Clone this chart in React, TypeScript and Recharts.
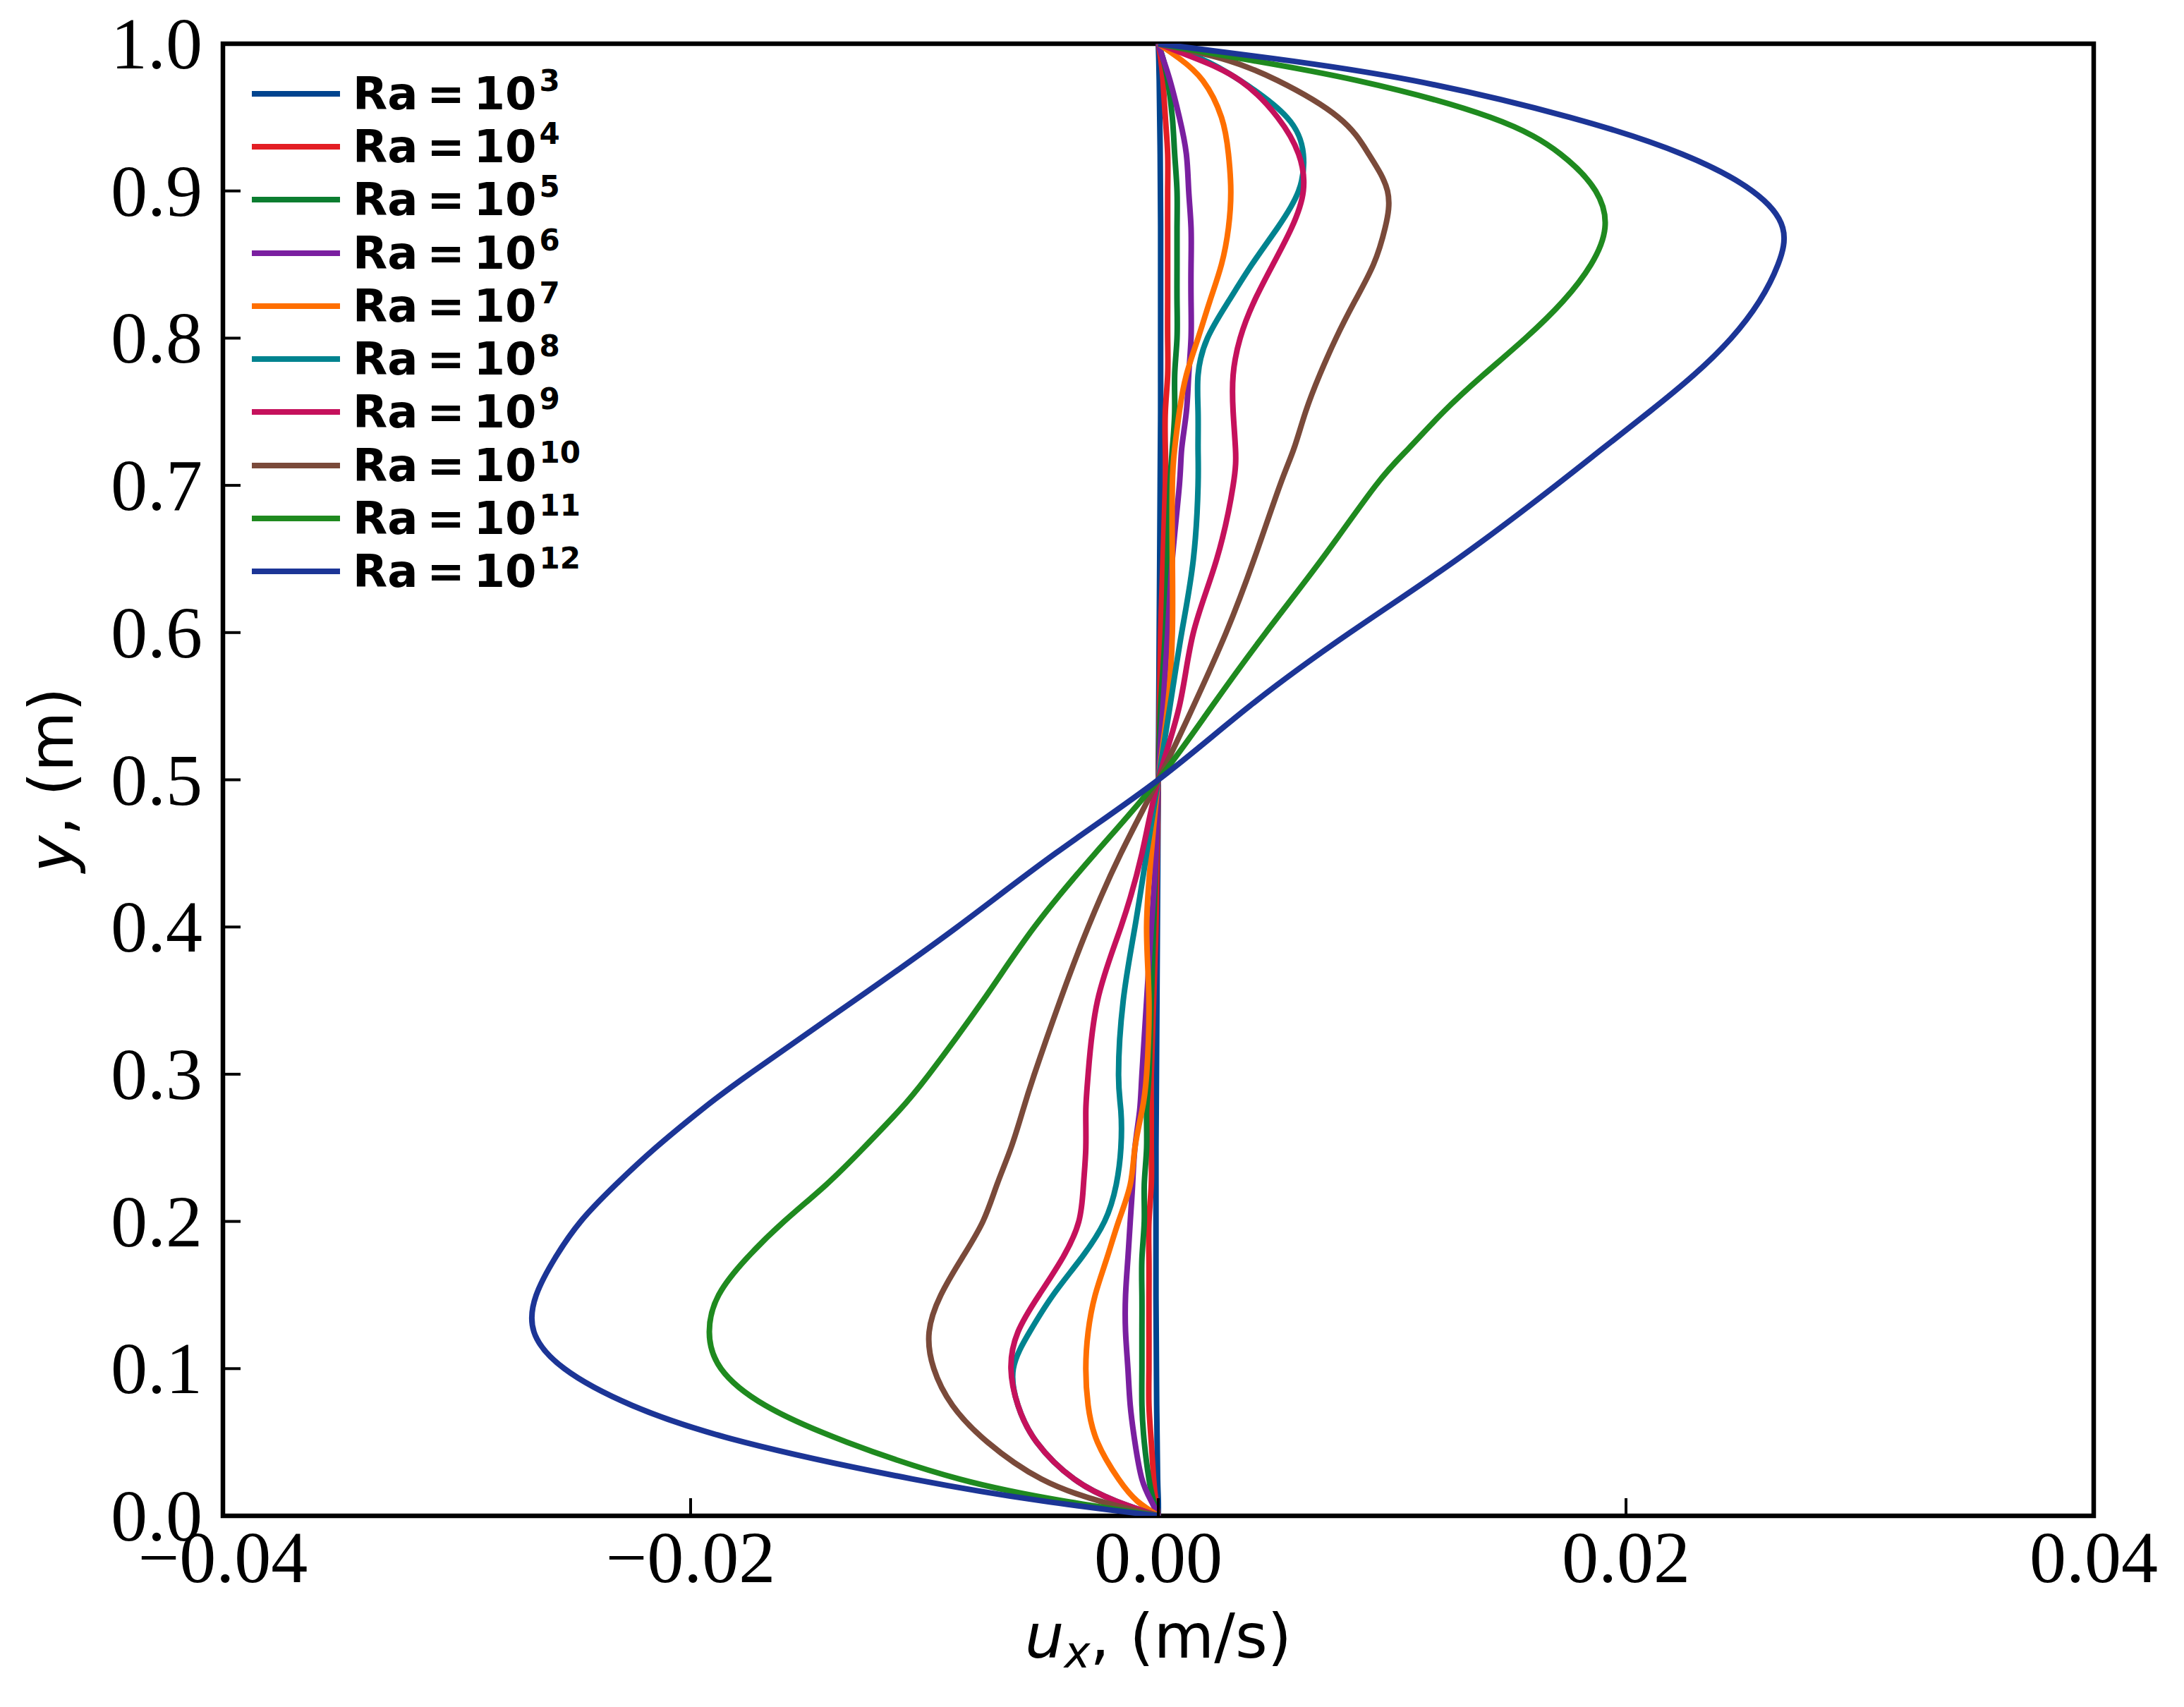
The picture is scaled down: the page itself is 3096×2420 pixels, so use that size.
import React from 'react';
import { LineChart, Line, XAxis, YAxis, ReferenceArea, Legend } from 'recharts';

// heights (m) the profiles were read at
const yPos = [
  0, 0.01, 0.025, 0.05, 0.075, 0.1, 0.125, 0.15, 0.175, 0.2, 0.225, 0.25, 0.275, 0.3, 0.35, 0.4, 0.45,
  0.5, 0.55, 0.6, 0.65, 0.7, 0.725, 0.75, 0.775, 0.8, 0.825, 0.85, 0.875, 0.9, 0.925, 0.95, 0.975, 0.99, 1,
];

// u_x (m/s) for each Rayleigh number
const ra3 = [0, 0, -0.00003, -0.00005, -0.00007, -0.00008, -0.00009, -0.0001, -0.0001, -0.0001, -0.0001, -0.0001, -0.00009, -0.00008, -0.00006, -0.00004, -0.00002, 0, 0.00002, 0.00004, 0.00006, 0.00008, 0.00009, 0.0001, 0.0001, 0.0001, 0.0001, 0.0001, 0.0001, 0.00009, 0.00008, 0.00006, 0.00004, 0.00002, 0];
const ra4 = [0, -0.0001, -0.0002, -0.0003, -0.0004, -0.0004, -0.0004, -0.0004, -0.0004, -0.0004, -0.0003, -0.0003, -0.0003, -0.0003, -0.0002, -0.0001, -0.00005, 0, 0.00005, 0.0001, 0.0002, 0.0003, 0.0003, 0.0003, 0.0004, 0.0004, 0.0004, 0.0004, 0.0004, 0.0004, 0.0004, 0.0003, 0.0002, 0.0001, 0];
const ra5 = [0, -0.0002, -0.0004, -0.0006, -0.0007, -0.0007, -0.0007, -0.0007, -0.0007, -0.0006, -0.0006, -0.0005, -0.0005, -0.0004, -0.0003, -0.0002, -0.0001, 0, 0.0001, 0.0003, 0.0004, 0.0005, 0.0006, 0.0007, 0.0007, 0.0008, 0.0008, 0.0008, 0.0008, 0.0008, 0.0007, 0.0006, 0.0004, 0.0002, 0];
const ra6 = [0, -0.0003, -0.0007, -0.001, -0.0012, -0.0013, -0.0014, -0.0014, -0.0013, -0.0012, -0.0011, -0.001, -0.0008, -0.0007, -0.0005, -0.0003, -0.0001, 0, 0.0002, 0.0004, 0.0006, 0.0009, 0.001, 0.0012, 0.0013, 0.0014, 0.0014, 0.0014, 0.0014, 0.0013, 0.0012, 0.0009, 0.0005, 0.0002, 0];
const ra7 = [0, -0.0009, -0.0017, -0.0026, -0.003, -0.0031, -0.003, -0.0027, -0.0022, -0.0017, -0.0012, -0.001, -0.0007, -0.0005, -0.0004, -0.0005, -0.0003, 0, 0.0004, 0.0006, 0.0006, 0.0006, 0.0007, 0.0009, 0.0012, 0.0017, 0.0022, 0.0027, 0.003, 0.0031, 0.003, 0.0027, 0.0019, 0.0009, 0];
const ra8 = [0, -0.0018, -0.0036, -0.0052, -0.006, -0.0062, -0.0055, -0.0045, -0.0033, -0.0023, -0.0018, -0.0016, -0.0016, -0.0017, -0.0015, -0.001, -0.0005, 0, 0.0005, 0.001, 0.0015, 0.0017, 0.0017, 0.0017, 0.0017, 0.0021, 0.003, 0.004, 0.0051, 0.006, 0.0062, 0.0055, 0.0035, 0.0018, 0];
const ra9 = [0, -0.0018, -0.0036, -0.0052, -0.006, -0.0063, -0.006, -0.0051, -0.0041, -0.0034, -0.0032, -0.0031, -0.0031, -0.003, -0.0026, -0.0016, -0.0007, 0, 0.0009, 0.0015, 0.0025, 0.0032, 0.0033, 0.0032, 0.0032, 0.0035, 0.0041, 0.0049, 0.0057, 0.0062, 0.006, 0.0051, 0.0035, 0.0016, 0];
const ra10 = [0, -0.0025, -0.005, -0.0073, -0.0088, -0.0096, -0.0098, -0.0093, -0.0084, -0.0075, -0.0069, -0.0063, -0.0058, -0.0053, -0.0042, -0.003, -0.0016, 0, 0.0015, 0.0029, 0.0041, 0.0052, 0.0058, 0.0063, 0.0069, 0.0076, 0.0084, 0.0092, 0.0097, 0.0098, 0.009, 0.0077, 0.0051, 0.0027, 0];
const ra11 = [0, -0.004, -0.0085, -0.0133, -0.0168, -0.0187, -0.0192, -0.0188, -0.0176, -0.016, -0.0142, -0.0126, -0.0111, -0.0098, -0.0075, -0.0053, -0.0027, 0, 0.0023, 0.0046, 0.007, 0.0093, 0.0107, 0.0122, 0.0139, 0.0157, 0.0173, 0.0185, 0.0191, 0.0187, 0.0172, 0.0142, 0.0085, 0.0035, 0];
const ra12 = [0, -0.0049, -0.0105, -0.0177, -0.0225, -0.0254, -0.0267, -0.0266, -0.0258, -0.0247, -0.0232, -0.0215, -0.0196, -0.0175, -0.013, -0.0086, -0.0044, 0, 0.0039, 0.0082, 0.0128, 0.017, 0.019, 0.021, 0.0229, 0.0245, 0.0257, 0.0265, 0.0267, 0.0254, 0.0224, 0.0176, 0.0109, 0.0049, 0];

const xTicks = [-0.04, -0.02, 0, 0.02, 0.04];
const yTicks = [0, 0.1, 0.2, 0.3, 0.4, 0.5, 0.6, 0.7, 0.8, 0.9, 1];

const series = [
  { key: 'ra3', exp: '3', color: '#00448f', values: ra3 },
  { key: 'ra4', exp: '4', color: '#e31e24', values: ra4 },
  { key: 'ra5', exp: '5', color: '#0b7d30', values: ra5 },
  { key: 'ra6', exp: '6', color: '#7a1fa0', values: ra6 },
  { key: 'ra7', exp: '7', color: '#ff6f00', values: ra7 },
  { key: 'ra8', exp: '8', color: '#00838f', values: ra8 },
  { key: 'ra9', exp: '9', color: '#c5115c', values: ra9 },
  { key: 'ra10', exp: '10', color: '#7a4a3a', values: ra10 },
  { key: 'ra11', exp: '11', color: '#1f8a1f', values: ra11 },
  { key: 'ra12', exp: '12', color: '#1c3596', values: ra12 },
];

const data = yPos.map((y, i) => {
  const row: Record<string, number> = { y };
  series.forEach((s) => {
    row[s.key] = s.values[i];
  });
  return row;
});

const SERIF = '"Liberation Serif", "DejaVu Serif", serif';
const SANS = '"DejaVu Sans", sans-serif';
const TICK_FONT = 104;
const TICK_LEN = 25;
const LINE_W = 8;

const fmtX = (v: number) => (v < 0 ? '\u2212' : '') + Math.abs(v).toFixed(2);

const XTick = (props: any) => {
  const { x, y, payload } = props;
  return (
    <g>
      <line x1={x} y1={y} x2={x} y2={y - TICK_LEN} stroke="#000" strokeWidth={4} />
      <text x={x} y={y + 94} textAnchor="middle" fontFamily={SERIF} fontSize={TICK_FONT} fill="#000">
        {fmtX(payload.value)}
      </text>
    </g>
  );
};

const YTick = (props: any) => {
  const { x, y, payload } = props;
  return (
    <g>
      <line x1={x} y1={y} x2={x + TICK_LEN} y2={y} stroke="#000" strokeWidth={4} />
      <text x={x - 29} y={y + 35} textAnchor="end" fontFamily={SERIF} fontSize={TICK_FONT} fill="#000">
        {payload.value.toFixed(1)}
      </text>
    </g>
  );
};

const XLabel = (props: any) => {
  const vb = props.viewBox;
  const cx = vb.x + vb.width / 2;
  return (
    <text x={cx} y={2350} textAnchor="middle" fontFamily={SANS} fontSize={88} fill="#000">
      <tspan fontStyle="italic">u</tspan>
      <tspan fontStyle="italic" fontSize={62} dy={14}>x</tspan>
      <tspan dy={-14}>, (m/s)</tspan>
    </text>
  );
};

const YLabel = (props: any) => {
  const vb = props.viewBox;
  const cy = vb.y + vb.height / 2;
  const cx = 103;
  return (
    <text
      x={cx}
      y={cy}
      transform={`rotate(-90, ${cx}, ${cy})`}
      textAnchor="middle"
      fontFamily={SANS}
      fontSize={88}
      fill="#000"
    >
      <tspan fontStyle="italic">y</tspan>
      <tspan>, (m)</tspan>
    </text>
  );
};

// keep the legend in the plotting order, not sorted by name
const LegendBox = (props: any) => {
  const items: any[] = props.payload || [];
  return (
    <div>
      {series.map((s) => {
        const item = items.find((p) => p.dataKey === s.key);
        const color = item ? item.color : s.color;
        return (
          <div key={s.key} style={{ display: 'flex', alignItems: 'center', height: 75.3 }}>
            <div style={{ width: 125, height: LINE_W, background: color }} />
            <div
              style={{
                marginLeft: 18,
                fontFamily: SANS,
                fontWeight: 'bold',
                fontSize: 64,
                lineHeight: 1,
                wordSpacing: '-0.15em',
                whiteSpace: 'nowrap',
                color: '#000',
              }}
            >
              Ra = 10
              <span style={{ fontSize: 42, position: 'relative', top: -26, marginLeft: 4 }}>{s.exp}</span>
            </div>
          </div>
        );
      })}
    </div>
  );
};

export default function App() {
  return (
    <div style={{ width: 3096, height: 2420, background: '#fff' }}>
      <style>{'body{margin:0}'}</style>
      <LineChart
        width={3096}
        height={2420}
        data={data}
        layout="vertical"
        margin={{ top: 62, right: 128, left: 0, bottom: 0 }}
      >
        <XAxis
          type="number"
          domain={[-0.04, 0.04]}
          ticks={xTicks}
          allowDataOverflow
          height={271}
          axisLine={false}
          tickLine={false}
          tickSize={0}
          tickMargin={0}
          tick={XTick}
          interval={0}
          label={XLabel}
        />
        <YAxis
          type="number"
          dataKey="y"
          domain={[0, 1]}
          ticks={yTicks}
          reversed
          allowDataOverflow
          width={316}
          axisLine={false}
          tickLine={false}
          tickSize={0}
          tickMargin={0}
          tick={YTick}
          interval={0}
          label={YLabel}
        />
        {series.map((s) => (
          <Line
            key={s.key}
            dataKey={s.key}
            name={`Ra = 10^${s.exp}`}
            type="natural"
            stroke={s.color}
            strokeWidth={LINE_W}
            dot={false}
            activeDot={false}
            isAnimationActive={false}
          />
        ))}
        <ReferenceArea
          x1={-0.04}
          x2={0.04}
          y1={0}
          y2={1}
          fill="none"
          fillOpacity={0}
          stroke="#000"
          strokeWidth={6.5}
          ifOverflow="visible"
        />
        <Legend
          layout="vertical"
          align="center"
          verticalAlign="middle"
          content={LegendBox}
          wrapperStyle={{ left: 357, top: 95, width: 'auto', height: 'auto' }}
        />
      </LineChart>
    </div>
  );
}
